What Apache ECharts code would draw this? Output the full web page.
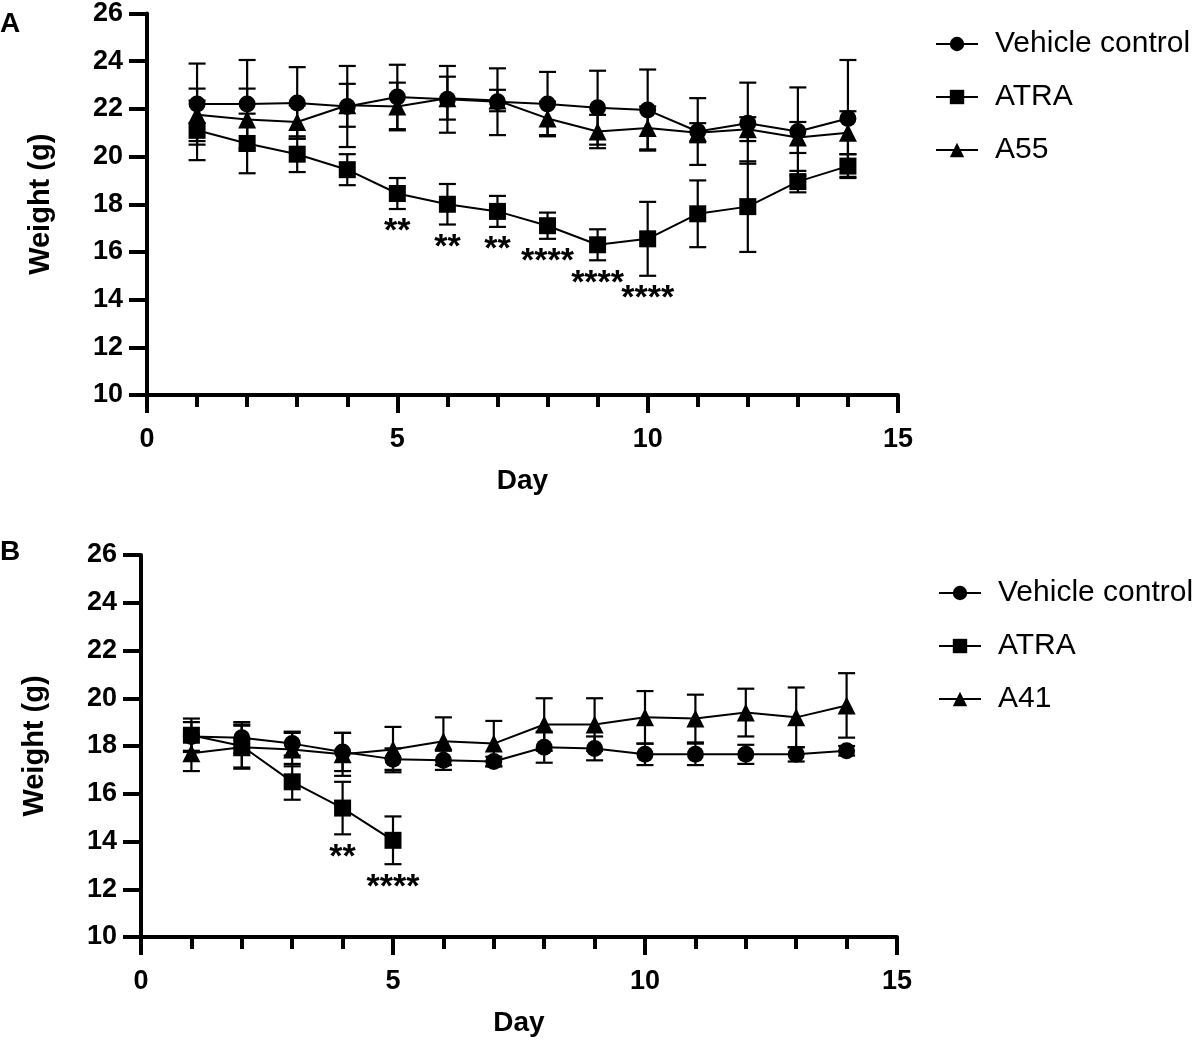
<!DOCTYPE html>
<html>
<head>
<meta charset="utf-8">
<script src="https://cdn.jsdelivr.net/npm/echarts@6/dist/echarts.min.js"></script>
<style>
  html, body { margin: 0; padding: 0; background: #fff; }
  #chart { width: 1199px; height: 1046px; }
</style>
</head>
<body>
<div id="chart"></div>
<script>
// panel A
const daysA = [1, 2, 3, 4, 5, 6, 7, 8, 9, 10, 11, 12, 13, 14]
const vehA = [22.2, 22.2, 22.25, 22.1, 22.5, 22.4, 22.3, 22.2, 22.05, 21.95, 21.05, 21.4, 21.05, 21.6]
const vehAErr = [1.7, 1.85, 1.5, 1.7, 1.35, 1.4, 1.4, 1.35, 1.55, 1.7, 1.4, 1.7, 1.85, 2.45]
const atraA = [21.1, 20.55, 20.1, 19.45, 18.45, 18.0, 17.7, 17.1, 16.3, 16.55, 17.6, 17.9, 18.95, 19.6]
const atraAErr = [1.25, 1.25, 0.75, 0.65, 0.65, 0.85, 0.65, 0.55, 0.65, 1.55, 1.4, 1.9, 0.45, 0.5]
const atraAStars = ['', '', '', '', '**', '**', '**', '****', '****', '****', '', '', '', '']
const a55 = [21.75, 21.55, 21.45, 22.15, 22.1, 22.45, 22.35, 21.6, 21.05, 21.2, 21.0, 21.15, 20.8, 21.0]
const a55Err = [1.1, 1.3, 0.7, 0.9, 1.0, 0.9, 0.45, 0.7, 0.7, 0.9, 0.4, 0.5, 0.65, 0.9]

// panel B
const daysB = [1, 2, 3, 4, 5, 6, 7, 8, 9, 10, 11, 12, 13, 14]
const vehB = [18.4, 18.35, 18.1, 17.75, 17.45, 17.4, 17.35, 17.95, 17.9, 17.65, 17.65, 17.65, 17.65, 17.8]
const vehBErr = [0.6, 0.65, 0.5, 0.8, 0.45, 0.4, 0.2, 0.65, 0.5, 0.45, 0.45, 0.4, 0.3, 0.2]
const atraBDays = [1, 2, 3, 4, 5]
const atraB = [18.45, 18.0, 16.5, 15.4, 14.05]
const atraBErr = [0.7, 0.9, 0.75, 1.1, 1.0]
const atraBStars = ['', '', '', '**', '****']
const a41 = [17.7, 17.95, 17.85, 17.65, 17.85, 18.2, 18.1, 18.9, 18.9, 19.2, 19.15, 19.4, 19.2, 19.7]
const a41Err = [0.75, 0.9, 0.7, 0.9, 0.95, 1.0, 0.95, 1.1, 1.1, 1.1, 1.0, 1.0, 1.25, 1.35]

const yTicks = [10, 12, 14, 16, 18, 20, 22, 24, 26]
const xTicks = [0, 5, 10, 15]

const FONT = "'Liberation Sans', Arial, Helvetica, sans-serif"
const myChart = echarts.init(document.getElementById('chart'))

const pairs = (xs, ys) => xs.map((x, i) => [x, ys[i]])
const errData = (xs, ys, es, stars) => xs.map((x, i) => [x, ys[i], es[i], stars ? stars[i] : ''])

// error bars (mean ± SD) with caps, plus significance stars under the bar
const errorSeries = (name, xi, data) => ({
  name: name + ' SD',
  type: 'custom',
  xAxisIndex: xi,
  yAxisIndex: xi,
  z: 1,
  silent: true,
  data: data,
  renderItem: function (params, api) {
    const x = api.value(0)
    const m = api.value(1)
    const e = api.value(2)
    const star = data[params.dataIndex][3]
    const top = api.coord([x, m + e])
    const bot = api.coord([x, m - e])
    const hw = 8.5
    const st = { stroke: '#000', lineWidth: 2.2 }
    const children = [
      { type: 'line', shape: { x1: top[0], y1: top[1], x2: bot[0], y2: bot[1] }, style: st },
      { type: 'line', shape: { x1: top[0] - hw, y1: top[1], x2: top[0] + hw, y2: top[1] }, style: st },
      { type: 'line', shape: { x1: bot[0] - hw, y1: bot[1], x2: bot[0] + hw, y2: bot[1] }, style: st }
    ]
    if (star) {
      children.push({
        type: 'text',
        style: {
          text: star, x: bot[0], y: bot[1] + 23,
          align: 'center', verticalAlign: 'middle',
          font: 'bold 34px ' + FONT, fill: '#000'
        }
      })
    }
    return { type: 'group', children: children }
  }
})

const lineSeries = (name, xi, data, symbol, size) => ({
  name: name,
  type: 'line',
  xAxisIndex: xi,
  yAxisIndex: xi,
  z: 3,
  data: data,
  symbol: symbol,
  symbolSize: size,
  showAllSymbol: true,
  color: '#000',
  itemStyle: { color: '#000' },
  lineStyle: { color: '#000', width: 2 },
  emphasis: { disabled: true }
})

const xAxisBase = {
  type: 'value',
  min: 0, max: 15, interval: 5,
  name: 'Day',
  nameLocation: 'middle',
  nameGap: 72,
  nameTextStyle: { fontFamily: FONT, fontWeight: 'bold', fontSize: 28, color: '#000' },
  splitLine: { show: false },
  axisLine: { lineStyle: { color: '#000', width: 4 } },
  axisTick: { length: 18, lineStyle: { color: '#000', width: 4 } },
  minorTick: { show: true, splitNumber: 5, length: 12, lineStyle: { color: '#000', width: 4 } },
  axisLabel: {
    margin: 31, color: '#000', fontFamily: FONT, fontWeight: 'bold', fontSize: 27,
    formatter: v => (xTicks.includes(v) ? String(v) : '')
  }
}

const yAxisBase = {
  type: 'value',
  min: 10, max: 26, interval: 2,
  name: 'Weight (g)',
  nameLocation: 'middle',
  nameGap: 92,
  nameTextStyle: { fontFamily: FONT, fontWeight: 'bold', fontSize: 29, color: '#000' },
  splitLine: { show: false },
  axisLine: { lineStyle: { color: '#000', width: 4 } },
  axisTick: { length: 18, lineStyle: { color: '#000', width: 4 } },
  axisLabel: {
    margin: 24, color: '#000', fontFamily: FONT, fontWeight: 'bold', fontSize: 27,
    formatter: v => (yTicks.includes(v) ? String(v) : '')
  }
}

const legendBase = {
  orient: 'vertical',
  itemWidth: 42,
  itemHeight: 18,
  itemGap: 19,
  selectedMode: false,
  textStyle: { fontFamily: FONT, fontSize: 30, color: '#000', lineHeight: 34, padding: [0, 0, 0, 12] }
}

const option = {
  animation: false,
  backgroundColor: '#fff',
  grid: [
    { left: 147, width: 751, top: 12, height: 383 },
    { left: 141, width: 756, top: 555, height: 382 }
  ],
  xAxis: [
    Object.assign({}, xAxisBase, { gridIndex: 0 }),
    Object.assign({}, xAxisBase, { gridIndex: 1 })
  ],
  yAxis: [
    Object.assign({}, yAxisBase, { gridIndex: 0 }),
    Object.assign({}, yAxisBase, { gridIndex: 1 })
  ],
  legend: [
    Object.assign({}, legendBase, { left: 930, top: 22, data: ['Vehicle control', 'ATRA', 'A55'] }),
    Object.assign({}, legendBase, { left: 933, top: 571, data: ['Vehicle control', 'ATRA', 'A41'] })
  ],
  graphic: [
    { type: 'text', left: 0, top: 10, style: { text: 'A', font: 'bold 28px ' + FONT, fill: '#000' } },
    { type: 'text', left: 0, top: 538, style: { text: 'B', font: 'bold 28px ' + FONT, fill: '#000' } }
  ],
  series: [
    lineSeries('Vehicle control', 0, pairs(daysA, vehA), 'circle', 17),
    lineSeries('ATRA', 0, pairs(daysA, atraA), 'rect', 17),
    lineSeries('A55', 0, pairs(daysA, a55), 'triangle', 18),
    errorSeries('Vehicle control', 0, errData(daysA, vehA, vehAErr)),
    errorSeries('ATRA', 0, errData(daysA, atraA, atraAErr, atraAStars)),
    errorSeries('A55', 0, errData(daysA, a55, a55Err)),

    lineSeries('Vehicle control', 1, pairs(daysB, vehB), 'circle', 17),
    lineSeries('ATRA', 1, pairs(atraBDays, atraB), 'rect', 17),
    lineSeries('A41', 1, pairs(daysB, a41), 'triangle', 18),
    errorSeries('Vehicle control', 1, errData(daysB, vehB, vehBErr)),
    errorSeries('ATRA', 1, errData(atraBDays, atraB, atraBErr, atraBStars)),
    errorSeries('A41', 1, errData(daysB, a41, a41Err))
  ]
}

option && myChart.setOption(option)

window.addEventListener('resize', function () {
  myChart.resize()
})
</script>
</body>
</html>
